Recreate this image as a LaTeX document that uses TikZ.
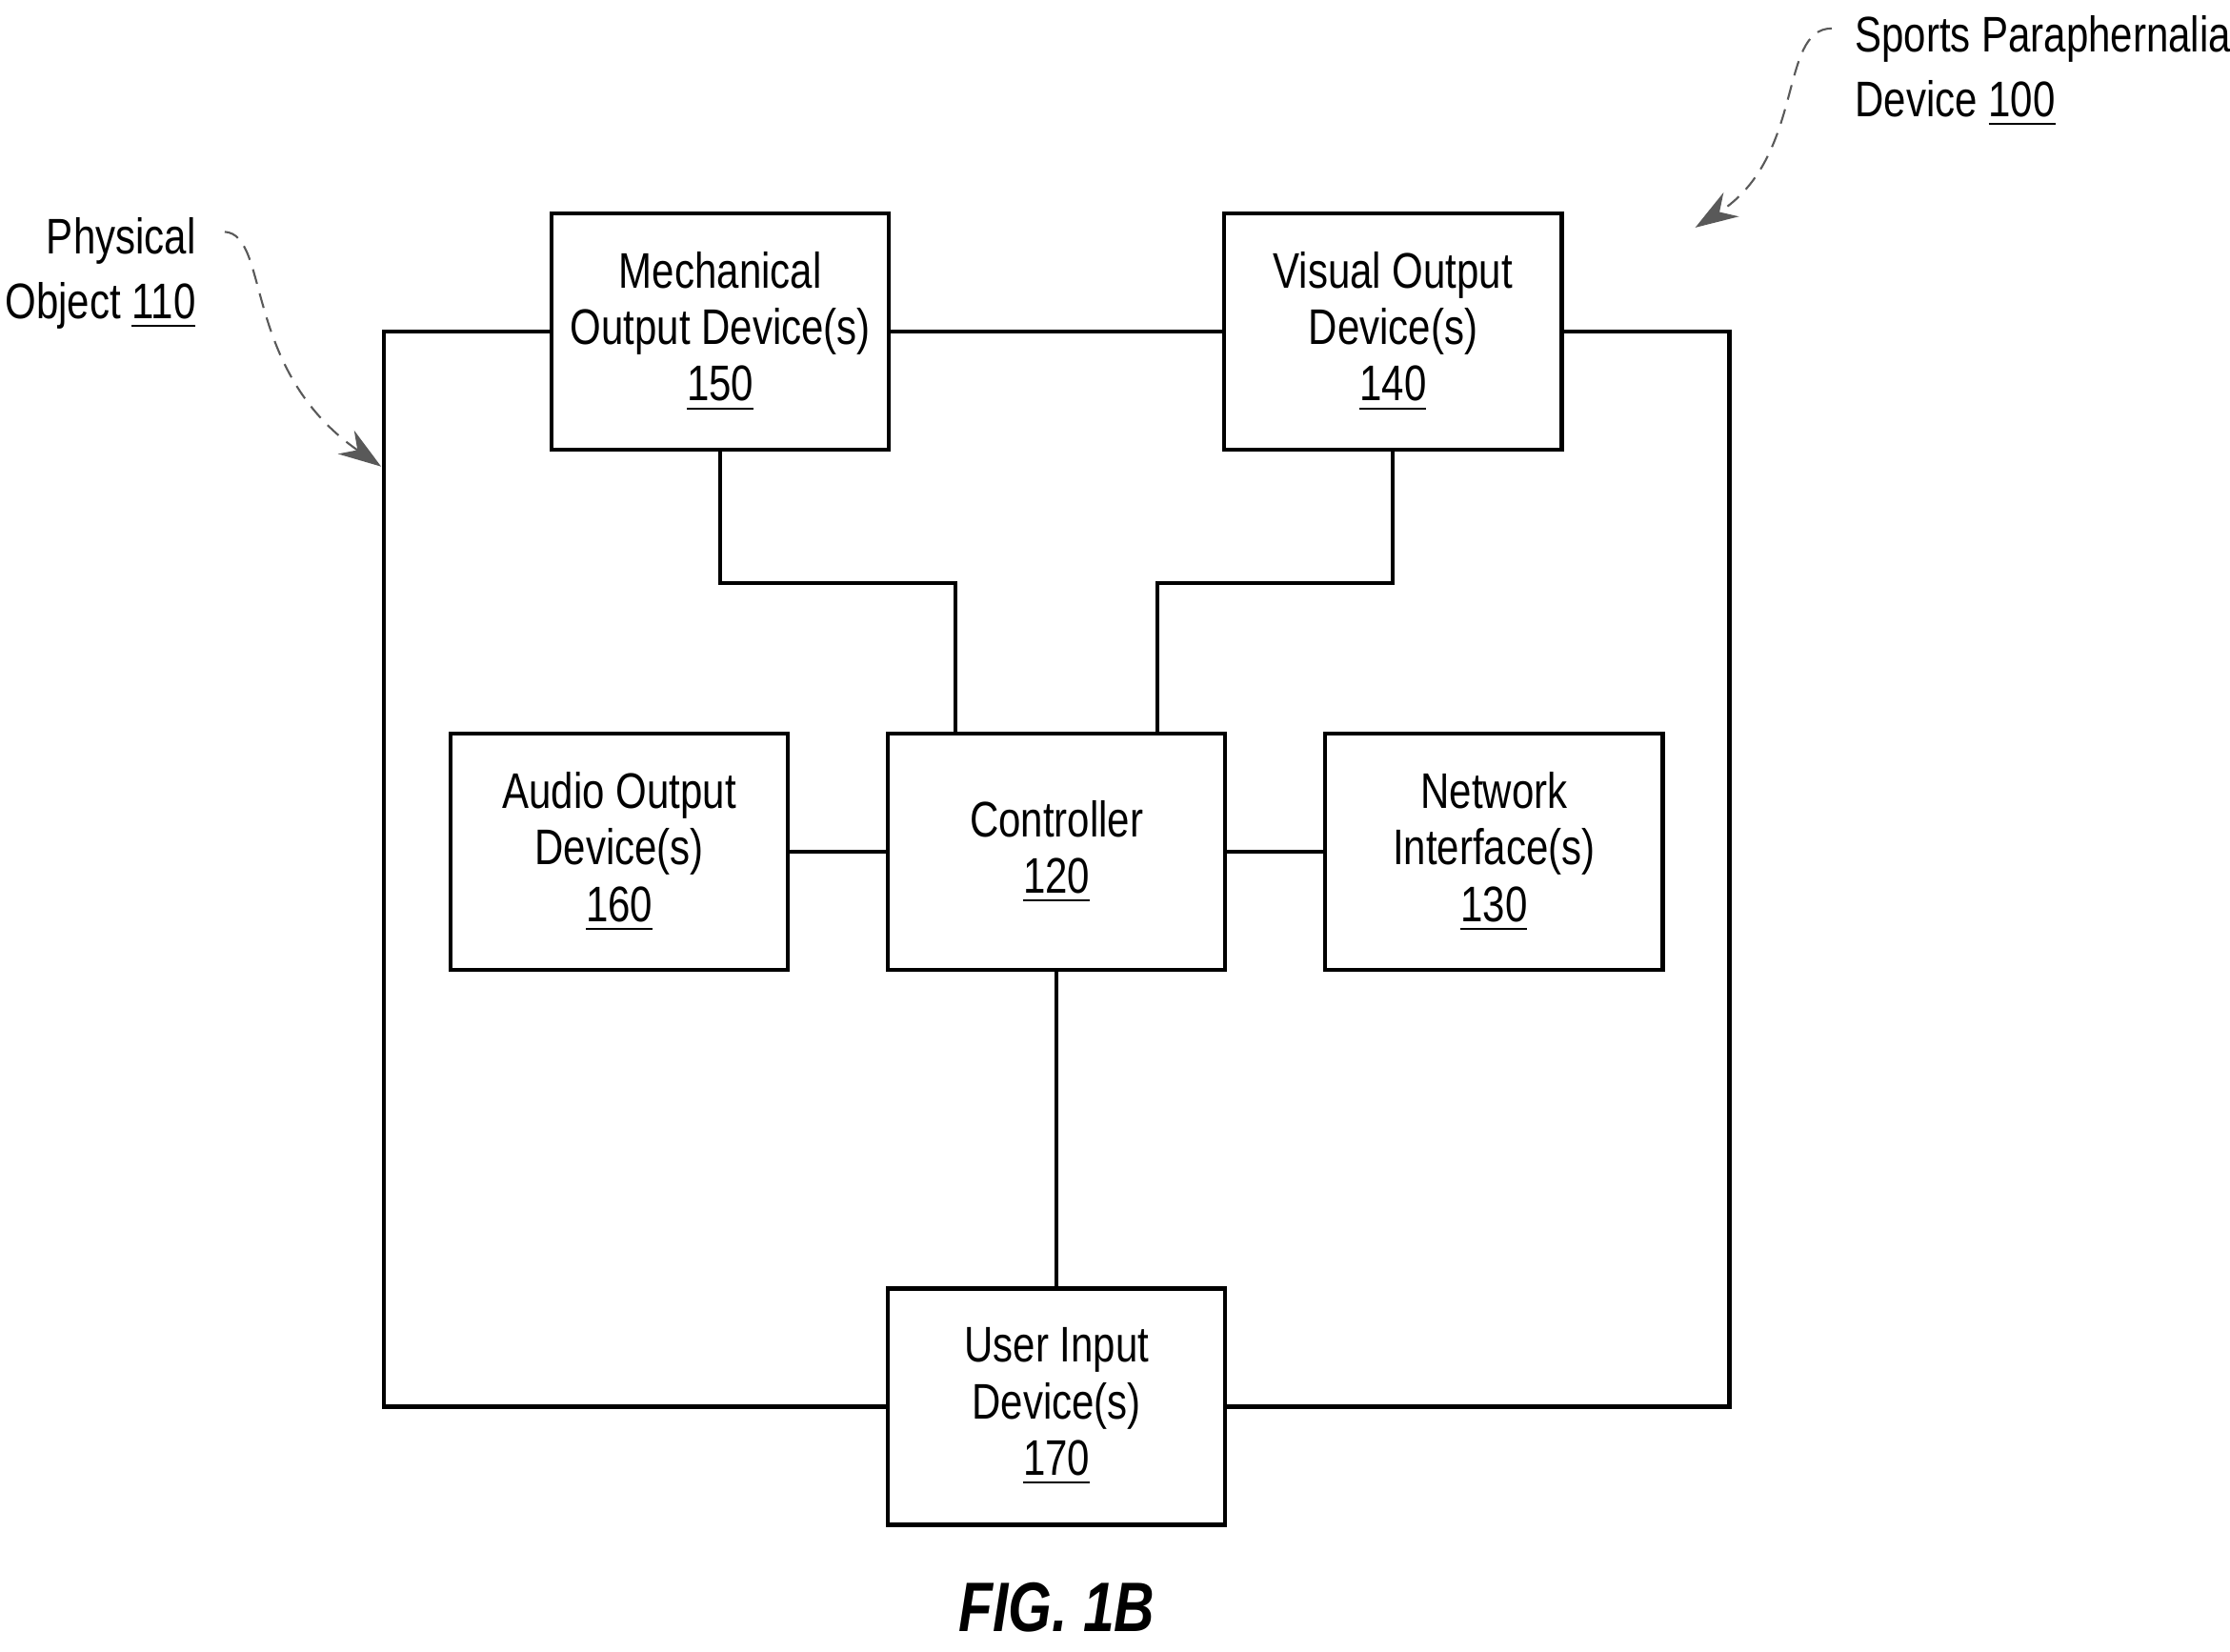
\documentclass[tikz,border=0pt]{standalone}
\usepackage{fontspec}
\setmainfont{Liberation Sans}[FakeStretch=0.8]
\usetikzlibrary{arrows.meta}
\tikzset{
  blk/.style={draw, thick, fill=white, minimum width=2.37cm, minimum height=1.66cm,
    align=center, font=\fontsize{10}{11.3}\selectfont},
  wire/.style={thick},
  lead/.style={densely dashed, gray!70!black, -{Stealth[length=3mm,width=2mm]}}
}
\begin{document}
\begin{tikzpicture}[x=0.01cm,y=-0.01cm]
  \useasboundingbox (0,0) rectangle (1568,1161);
  % physical object outline
  \draw[wire] (270,233) rectangle (1216,989);
  % blocks
  \node[blk] (mech) at (506.5,233) {Mechanical\\Output Device(s)\\\underline{150}};
  \node[blk] (vis) at (979.5,233) {Visual Output\\Device(s)\\\underline{140}};
  \node[blk] (aud) at (435.5,599) {Audio Output\\Device(s)\\\underline{160}};
  \node[blk] (ctrl) at (743,599) {Controller\\\underline{120}};
  \node[blk] (net) at (1050.5,599) {Network\\Interface(s)\\\underline{130}};
  \node[blk] (ui) at (743,989) {User Input\\Device(s)\\\underline{170}};
  % connectors
  \draw[wire] (mech.south) |- (672,410) -- (ctrl.north -| 672,0);
  \draw[wire] (vis.south) |- (814,410) -- (ctrl.north -| 814,0);
  \draw[wire] (aud) -- (ctrl);
  \draw[wire] (ctrl) -- (net);
  \draw[wire] (ctrl) -- (ui);
  % labels
  \node[align=right, anchor=east, font=\fontsize{10}{13}\selectfont] (phys) at (150,192) {Physical\\Object \underline{110}};
  \node[align=left, anchor=west, font=\fontsize{10}{13}\selectfont] (spd) at (1292,50) {Sports Paraphernalia\\Device \underline{100}};
  \coordinate (physTip) at (268,328);
  \coordinate (spdTip) at (1192,160);
  \draw[lead] (158,163) .. controls (190,165) and (170,260) .. (physTip);
  \draw[lead] (1288,20) .. controls (1250,20) and (1270,110) .. (spdTip);
  \node[font=\bfseries\itshape\fontsize{14}{14}\selectfont] (fig) at (743,1130) {FIG. 1B};
\end{tikzpicture}
\end{document}
